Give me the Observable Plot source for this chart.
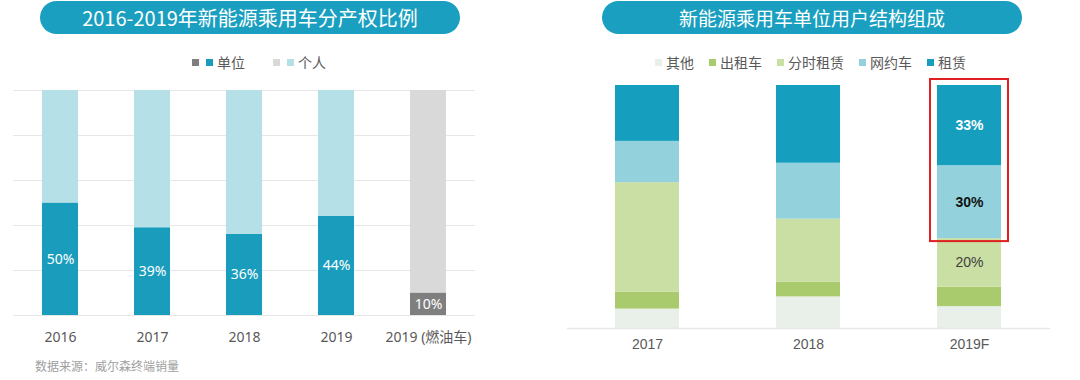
<!DOCTYPE html>
<html>
<head>
<meta charset="utf-8">
<script src="https://cdn.jsdelivr.net/npm/d3@7"></script>
<script src="https://cdn.jsdelivr.net/npm/@observablehq/plot@0.6"></script>
<style>
  body{margin:0;width:1080px;height:380px;background:#fff;position:relative;overflow:hidden;
       font-family:"Noto Sans","Noto Sans CJK SC",sans-serif;}
  .pill{position:absolute;top:1px;height:33px;border-radius:17px;background:#1a9fc0;color:#fff;
        line-height:33px;text-align:center;font-family:"Noto Sans CJK SC","Noto Sans",sans-serif;}
  .legend{position:absolute;top:52px;height:20px;display:flex;align-items:center;font-size:14px;color:#595959;
          font-family:"Noto Sans CJK SC","Noto Sans",sans-serif;white-space:nowrap;}
  .sw{display:inline-block;width:7px;height:7px;}
  .chart{position:absolute;}
  .source{position:absolute;left:35px;top:357px;font-size:12px;color:#a0a0a0;font-family:"Noto Sans CJK SC",sans-serif;}
</style>
</head>
<body>
<div class="pill" style="left:40px;width:420px;font-size:20px;">2016-2019年新能源乘用车分产权比例</div>
<div class="pill" style="left:602px;width:420px;font-size:19px;">新能源乘用车单位用户结构组成</div>
<div class="legend" id="legL" style="left:192px;"></div>
<div class="legend" id="legR" style="left:655px;"></div>
<div class="chart" id="left" style="left:0;top:80px;"></div>
<div class="chart" id="right" style="left:540px;top:70px;"></div>
<div class="source">数据来源：威尔森终端销量</div>
<script>
// ---------- Left chart data ----------
const ownershipYears = ["2016", "2017", "2018", "2019", "2019 (燃油车)"];
const unitShare = [0.50, 0.39, 0.36, 0.44, 0.10];
const ownerSeries = ["单位", "个人"];

// ---------- Right chart data ----------
const userYears = ["2017", "2018", "2019F"];
const segments = ["其他", "出租车", "分时租赁", "网约车", "租赁"];
const otherShare   = [0.08, 0.13, 0.09];
const taxiShare    = [0.07, 0.06, 0.08];
const carShareShare= [0.45, 0.26, 0.20];
const rideHailShare= [0.17, 0.23, 0.30];
const leaseShare   = [0.23, 0.32, 0.33];

// ---------- Left chart ----------
const fuelCat = "2019 (燃油车)";
const leftData = ownershipYears.flatMap((c, i) => [
  {cat: c, owner: ownerSeries[0], value: unitShare[i]},
  {cat: c, owner: ownerSeries[1], value: 1 - unitShare[i]}
]);
const keyOf = d => d.owner + (d.cat === fuelCat ? "·燃油车" : "");
const leftColors = {domain: ["单位", "个人", "单位·燃油车", "个人·燃油车"],
                    range: ["#1a9dbd", "#b6e0e7", "#7f7f7f", "#d9d9d9"]};

const left = Plot.plot({
  width: 540, height: 270,
  marginLeft: 13, marginRight: 65, marginTop: 10, marginBottom: 35,
  style: {fontFamily: '"Noto Sans","Noto Sans CJK SC",sans-serif', background: "transparent"},
  x: {domain: ownershipYears, paddingInner: 0.61, paddingOuter: 0.31, label: null},
  y: {domain: [0, 1], axis: null},
  color: leftColors,
  marks: [
    Plot.ruleY(d3.ticks(0, 1, 5), {stroke: "#e6e6e6", strokeWidth: 1}),
    Plot.barY(leftData, {x: "cat", y: "value", fill: keyOf}),
    Plot.text(leftData.filter(d => d.owner === "单位"), {
      x: "cat", y: d => d.value / 2, text: d => Math.round(d.value * 100) + "%",
      fill: "white", fontSize: 14
    }),
    Plot.axisX({tickSize: 0, tickPadding: 17, fontSize: 14, color: "#595959", label: null})
  ]
});
document.getElementById("left").append(left);

// left legend
const legL = document.getElementById("legL");
legL.innerHTML =
  `<span class="sw" style="background:#7f7f7f"></span><span class="sw" style="background:#1a9dbd;margin-left:7px"></span>` +
  `<span style="margin-left:4px">${ownerSeries[0]}</span>` +
  `<span class="sw" style="background:#d9d9d9;margin-left:28px"></span><span class="sw" style="background:#b6e0e7;margin-left:7px"></span>` +
  `<span style="margin-left:4px">${ownerSeries[1]}</span>`;

// ---------- Right chart ----------
const segValues = [otherShare, taxiShare, carShareShare, rideHailShare, leaseShare];
const segColors = ["#e9efe9", "#a9cb6e", "#c9dfa4", "#93d2dc", "#169ebf"];
const rightData = [];
userYears.forEach((yr, i) => {
  let acc = 0;
  segments.forEach((s, j) => {
    const v = segValues[j][i];
    rightData.push({year: yr, seg: s, value: v, y1: acc, y2: acc + v});
    acc += v;
  });
});
const hiYear = "2019F";
const hiRows = rightData.filter(d => d.year === hiYear && (d.seg === "网约车" || d.seg === "租赁"));
const highlight = [{year: hiYear, y1: d3.min(hiRows, d => d.y1), y2: d3.max(hiRows, d => d.y2)}];
const labelRows = rightData.filter(d => d.year === hiYear && ["分时租赁", "网约车", "租赁"].includes(d.seg));
const labelFill = {"租赁": "#ffffff", "网约车": "#111111", "分时租赁": "#404040"};

const right = Plot.plot({
  width: 540, height: 300,
  marginLeft: 27, marginRight: 30, marginTop: 15, marginBottom: 42,
  style: {fontFamily: '"Liberation Sans",Arial,sans-serif', background: "transparent"},
  x: {domain: userYears, paddingInner: 0.6, paddingOuter: 0.3, label: null},
  y: {domain: [0, 1], axis: null},
  color: {domain: segments, range: segColors},
  marks: [
    Plot.barY(rightData, {x: "year", y1: "y1", y2: "y2", fill: "seg"}),
    Plot.ruleY([0], {stroke: "#e8e8e8", strokeWidth: 1.5}),
    Plot.text(labelRows.filter(d => d.seg !== "分时租赁"), {
      x: "year", y: d => (d.y1 + d.y2) / 2, text: d => Math.round(d.value * 100) + "%",
      fill: d => labelFill[d.seg], fontSize: 14, fontWeight: "bold"
    }),
    Plot.text(labelRows.filter(d => d.seg === "分时租赁"), {
      x: "year", y: d => (d.y1 + d.y2) / 2, text: d => Math.round(d.value * 100) + "%",
      fill: d => labelFill[d.seg], fontSize: 14
    }),
    Plot.barY(highlight, {x: "year", y1: "y1", y2: "y2", fill: "none", stroke: "#e02020", strokeWidth: 2,
      insetLeft: -7, insetRight: -7, insetTop: -6, insetBottom: -3}),
    Plot.axisX({tickSize: 0, tickPadding: 11, fontSize: 14, color: "#595959", label: null})
  ]
});
document.getElementById("right").append(right);

// right legend
const legR = document.getElementById("legR");
legR.innerHTML = segments.map((s, j) =>
  `<span class="sw" style="background:${segColors[j]};margin-left:${j ? 15 : 0}px"></span><span style="margin-left:4px">${s}</span>`
).join("");
</script>
</body>
</html>
